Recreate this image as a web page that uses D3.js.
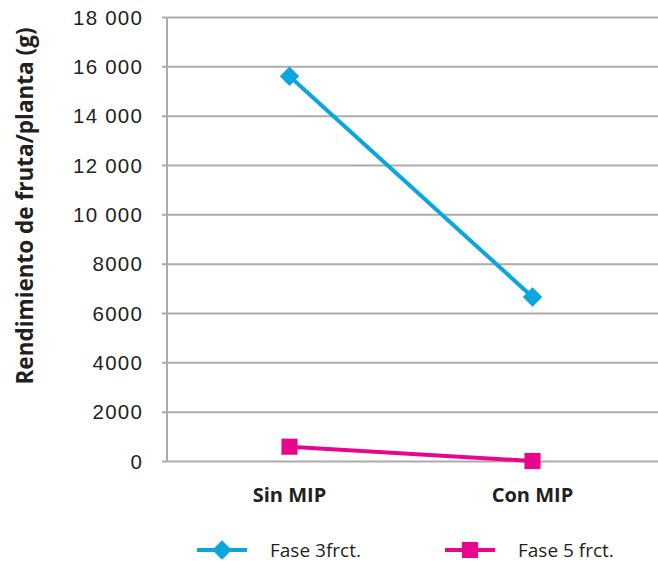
<!DOCTYPE html>
<html>
<head>
<meta charset="utf-8">
<script src="https://cdn.jsdelivr.net/npm/d3@7"></script>
<style>
  body { margin: 0; background: #fff; }
  svg { display: block; font-family: "Open Sans", Lato, sans-serif; }
</style>
</head>
<body>
<div id="vis"></div>
<script>
// chart data
var categories = ['Sin MIP', 'Con MIP'];
var fase3 = [15600, 6650];
var fase5 = [580, 0];
var yTicks = [0, 2000, 4000, 6000, 8000, 10000, 12000, 14000, 16000, 18000];
var seriesNames = ['Fase 3frct.', 'Fase 5 frct.'];

var width = 658, height = 562;
var margin = { top: 17, right: 4, bottom: 101, left: 168 };

var blue = '#0aa6df';
var pink = '#e8078c';
var grid = '#ababab';
var textColor = '#231f20';

var svg = d3.select('#vis').append('svg')
  .attr('width', width)
  .attr('height', height);

var x = d3.scaleBand()
  .domain(categories)
  .range([margin.left, width - margin.right]);

var y = d3.scaleLinear()
  .domain([0, 18000])
  .range([height - margin.bottom, margin.top]);

// spanish style: 4-digit numbers have no separator
function fmt(v) {
  if (v < 10000) return String(v);
  return d3.format(',')(v).replace(/,/g, ' ');
}

// gridlines + ticks
var yAxis = d3.axisLeft(y)
  .tickValues(yTicks)
  .tickFormat(fmt)
  .tickSize(0);

var gy = svg.append('g')
  .attr('transform', 'translate(' + (margin.left - 6) + ',0)')
  .call(yAxis);

gy.select('.domain').remove();
gy.selectAll('.tick line')
  .attr('stroke', grid)
  .attr('stroke-width', 2)
  .attr('x1', 0)
  .attr('x2', width - margin.left + 6);
gy.selectAll('.tick text')
  .attr('x', -19)
  .attr('dy', '0.35em')
  .attr('fill', textColor)
  .style('font-size', '20.5px')
  .style('letter-spacing', '1.2px');

// vertical axis line
svg.append('line')
  .attr('x1', margin.left - 1).attr('x2', margin.left - 1)
  .attr('y1', y(18000)).attr('y2', y(0))
  .attr('stroke', grid)
  .attr('stroke-width', 2);

// category labels
svg.selectAll('.cat')
  .data(categories)
  .enter().append('text')
  .attr('class', 'cat')
  .attr('x', function (d) { return x(d) + x.bandwidth() / 2; })
  .attr('y', 502)
  .attr('text-anchor', 'middle')
  .attr('fill', textColor)
  .style('font-size', '20px')
  .style('font-weight', 'bold')
  .text(function (d) { return d; });

// y title
svg.append('text')
  .attr('transform', 'translate(33,206) rotate(-90)')
  .attr('text-anchor', 'middle')
  .attr('fill', textColor)
  .style('font-size', '22.5px')
  .style('font-weight', 'bold')
  .text('Rendimiento de fruta/planta (g)');

var line = d3.line()
  .x(function (d, i) { return x(categories[i]) + x.bandwidth() / 2; })
  .y(function (d) { return y(d); });

var diamond = d3.symbol().type(d3.symbolDiamond2).size(240);
var square = d3.symbol().type(d3.symbolSquare).size(260);

function drawSeries(values, color, sym) {
  svg.append('path')
    .datum(values)
    .attr('d', line)
    .attr('fill', 'none')
    .attr('stroke', color)
    .attr('stroke-width', 4);

  svg.selectAll(null)
    .data(values)
    .enter().append('path')
    .attr('d', sym)
    .attr('fill', color)
    .attr('transform', function (d, i) {
      return 'translate(' + (x(categories[i]) + x.bandwidth() / 2) + ',' + y(d) + ')';
    });
}

drawSeries(fase3, blue, diamond);
drawSeries(fase5, pink, square);

// legend
var legend = [
  { name: seriesNames[0], color: blue, sym: diamond, x: 197 },
  { name: seriesNames[1], color: pink, sym: square, x: 445 }
];
var lg = svg.selectAll('.legend')
  .data(legend)
  .enter().append('g')
  .attr('class', 'legend')
  .attr('transform', function (d) { return 'translate(' + d.x + ',550)'; });

lg.append('line')
  .attr('x1', 0).attr('x2', 50)
  .attr('stroke', function (d) { return d.color; })
  .attr('stroke-width', 4);
lg.append('path')
  .attr('transform', 'translate(25,0)')
  .attr('d', function (d) { return d.sym(); })
  .attr('fill', function (d) { return d.color; });
lg.append('text')
  .attr('x', 73)
  .attr('y', 7)
  .attr('fill', textColor)
  .style('font-size', '19px')
  .text(function (d) { return d.name; });
</script>
</body>
</html>
